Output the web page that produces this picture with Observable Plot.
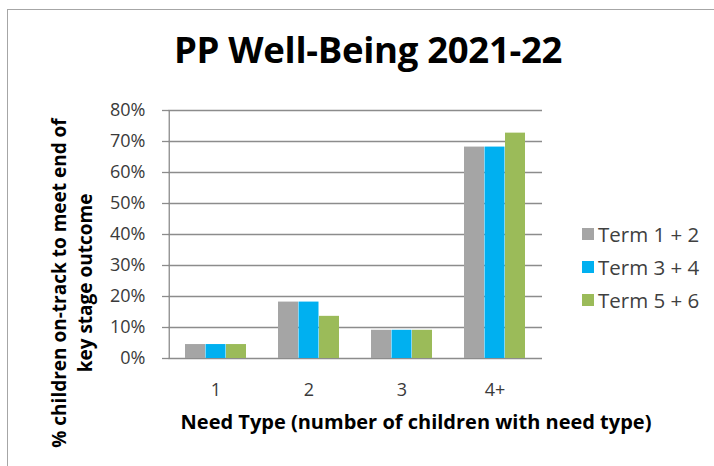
<!DOCTYPE html>
<html>
<head>
<meta charset="utf-8">
<script src="https://cdn.jsdelivr.net/npm/d3@7"></script>
<script src="https://cdn.jsdelivr.net/npm/@observablehq/plot@0.6"></script>
<style>
  html, body { margin: 0; padding: 0; background: #fff; }
  #wrap { position: relative; width: 714px; height: 466px; overflow: hidden; font-family: "Open Sans", sans-serif; }
  #frame { position: absolute; left: 7px; top: 9px; width: 740px; height: 500px; border: 1.5px solid #a6a6a6; box-sizing: border-box; }
  #title { position: absolute; left: 0; top: 24px; width: 736px; text-align: center; font-weight: bold; font-size: 36.5px; color: #000; letter-spacing: -0.3px; }
  #chart { position: absolute; left: 0; top: 95px; }
  #ytitle { position: absolute; left: 72px; top: 283px; transform: translate(-50%, -50%) rotate(-90deg); font-weight: bold; font-size: 19px; line-height: 26px; text-align: center; white-space: nowrap; color: #000; }
  #xtitle { position: absolute; left: 416px; top: 408px; transform: translateX(-50%); font-weight: bold; font-size: 20px; white-space: nowrap; color: #000; }
  #legend { position: absolute; left: 582px; top: 217px; font-size: 20.5px; color: #404040; }
  .li { display: flex; align-items: center; height: 33px; white-space: nowrap; }
  .sw { width: 12px; height: 12px; margin-right: 4px; }
</style>
</head>
<body>
<div id="wrap">
  <div id="frame"></div>
  <div id="title"></div>
  <div id="chart"></div>
  <div id="ytitle"></div>
  <div id="xtitle"></div>
  <div id="legend"></div>
</div>
<script>
const chartTitle = "PP Well-Being 2021-22";
const yTitleLines = ["% children on-track to meet end of", "key stage outcome"];
const xTitle = "Need Type (number of children with need type)";
const categories = ["1", "2", "3", "4+"];
const seriesNames = ["Term 1 + 2", "Term 3 + 4", "Term 5 + 6"];
const term12 = [0.045, 0.182, 0.091, 0.682];
const term34 = [0.045, 0.182, 0.091, 0.682];
const term56 = [0.045, 0.136, 0.091, 0.727];
const seriesColors = ["#a5a5a5", "#00b0f0", "#9bbb59"];
const yTicks = [0, 0.1, 0.2, 0.3, 0.4, 0.5, 0.6, 0.7, 0.8];

const seriesValues = [term12, term34, term56];
const data = seriesNames.flatMap((s, i) => categories.map((c, j) => ({category: c, series: s, value: seriesValues[i][j]})));

document.getElementById("title").textContent = chartTitle;
document.getElementById("ytitle").innerHTML = yTitleLines.map(t => `<div>${t}</div>`).join("");
document.getElementById("xtitle").textContent = xTitle;
const legend = document.getElementById("legend");
seriesNames.forEach((s, i) => {
  const d = document.createElement("div");
  d.className = "li";
  d.innerHTML = `<span class="sw" style="background:${seriesColors[i]}"></span><span>${s}</span>`;
  legend.appendChild(d);
});

const width = 714, height = 371;
const mL = 168, mR = 172, mT = 15, mB = 108;
const band = (width - mL - mR) / categories.length;
const groupOff = 16, barW = (band - 2 * groupOff) / seriesNames.length;

const marks = [
  Plot.ruleY(yTicks, {stroke: "#8c8c8c", strokeWidth: 1.3}),
  ...seriesNames.map((s, i) => Plot.barY(data.filter(d => d.series === s), {
    x: "category", y: "value", fill: seriesColors[i],
    insetLeft: groupOff + i * barW,
    insetRight: band - groupOff - (i + 1) * barW
  })),
  Plot.axisY({ticks: yTicks, tickFormat: d3.format(".0%"), tickSize: 6, tickPadding: 17, stroke: "#8c8c8c", strokeWidth: 1.3, fontSize: 18, fill: "#3a3a3a"}),
  Plot.ruleX([categories[0]], {x: d => d, y1: 0, y2: 0.8, dx: -band / 2, stroke: "#8c8c8c", strokeWidth: 1.3}),
  Plot.axisX({tickSize: 0, tickPadding: 25, fontSize: 18, fill: "#3a3a3a", label: null})
];

const plot = Plot.plot({
  width, height,
  marginLeft: mL, marginRight: mR, marginTop: mT, marginBottom: mB,
  style: {fontFamily: "Open Sans, sans-serif", overflow: "visible", background: "transparent"},
  x: {domain: categories, padding: 0, label: null},
  y: {domain: [0, 0.8], label: null},
  marks
});
document.getElementById("chart").appendChild(plot);
</script>
</body>
</html>
